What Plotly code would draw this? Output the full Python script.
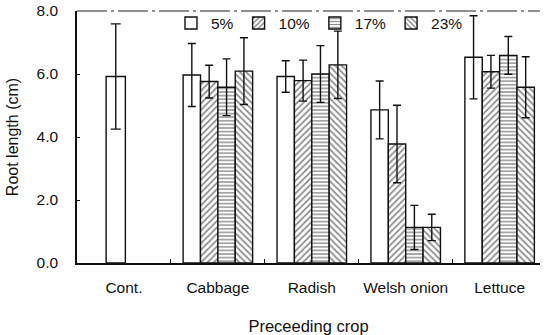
import plotly.graph_objects as go

# ---- data ----
crops = ["Cabbage", "Radish", "Welsh onion", "Lettuce"]
control_label = ["Cont."]
control_value = [5.92]
control_err = [1.67]

series_names = ["5%", "10%", "17%", "23%"]
values_5 = [5.97, 5.92, 4.86, 6.53]
values_10 = [5.76, 5.79, 3.78, 6.07]
values_17 = [5.58, 6.00, 1.13, 6.59]
values_23 = [6.09, 6.29, 1.13, 5.58]
err_5 = [1.00, 0.50, 0.92, 1.32]
err_10 = [0.52, 0.65, 1.23, 0.52]
err_17 = [0.90, 0.90, 0.70, 0.60]
err_23 = [1.06, 1.07, 0.42, 0.97]

y_ticks = [0, 2, 4, 6, 8]

FONT = "Liberation Sans, Arial, sans-serif"
BLACK = "#111111"

series_values = [values_5, values_10, values_17, values_23]
series_errs = [err_5, err_10, err_17, err_23]
patterns = ["", "/", "-", "\\"]
pat_size = [6, 4.5, 3.6, 4.5]
pat_sol = [0.3, 0.38, 0.38, 0.38]

fig = go.Figure()

# control bar (single, not in legend)
fig.add_trace(go.Bar(
    x=control_label, y=control_value,
    error_y=dict(type="data", array=control_err, color=BLACK, thickness=1.4, width=5),
    marker=dict(color="white", line=dict(color=BLACK, width=1.4)),
    width=0.205, offset=-0.19, offsetgroup="g1",
    showlegend=False, hoverinfo="skip",
))

for i, name in enumerate(series_names):
    fig.add_trace(go.Bar(
        name=name, x=crops, y=series_values[i],
        error_y=dict(type="data", array=series_errs[i], color=BLACK, thickness=1.4, width=4),
        marker=dict(
            color="white",
            line=dict(color=BLACK, width=1.4),
            pattern=dict(shape=patterns[i], fgcolor=BLACK, bgcolor="white",
                         size=pat_size[i], solidity=pat_sol[i]),
        ),
        offsetgroup="g%d" % (i + 1),
    ))

fig.update_layout(
    width=545, height=335,
    margin=dict(l=77, r=5, t=11, b=72, autoexpand=False),
    paper_bgcolor="white", plot_bgcolor="white",
    barmode="group", bargap=0.26, bargroupgap=0,
    font=dict(family=FONT, size=15.5, color=BLACK),
    showlegend=True,
    legend=dict(orientation="h", x=0.203, xanchor="left", y=1.018, yanchor="top",
                bgcolor="rgba(0,0,0,0)", font=dict(size=15.5), traceorder="normal"),
    shapes=[dict(type="line", xref="paper", yref="paper", x0=0, x1=1, y0=1, y1=1,
                 line=dict(color="#222222", width=1.2, dash="30px,4px,3px,4px"))],
)

fig.update_xaxes(
    type="category",
    categoryorder="array", categoryarray=control_label + crops,
    range=[-0.5, 4.43],
    showline=True, linecolor=BLACK, linewidth=1.5,
    ticks="inside", tickson="boundaries", ticklen=4, tickcolor=BLACK,
    ticklabelstandoff=10, tickangle=0, automargin=False,
    showgrid=False, zeroline=False,
    title=dict(text="Preceeding crop", standoff=26, font=dict(size=16.5)),
)
fig.update_yaxes(
    range=[0, 8], tickvals=y_ticks, tickformat=".1f",
    showline=True, linecolor=BLACK, linewidth=1.5,
    ticks="inside", ticklen=3, tickcolor=BLACK,
    ticklabelstandoff=14, automargin=False,
    showgrid=False, zeroline=False,
    title=dict(text="Root length (cm)", standoff=14, font=dict(size=16)),
)

fig.write_html("out.html")
